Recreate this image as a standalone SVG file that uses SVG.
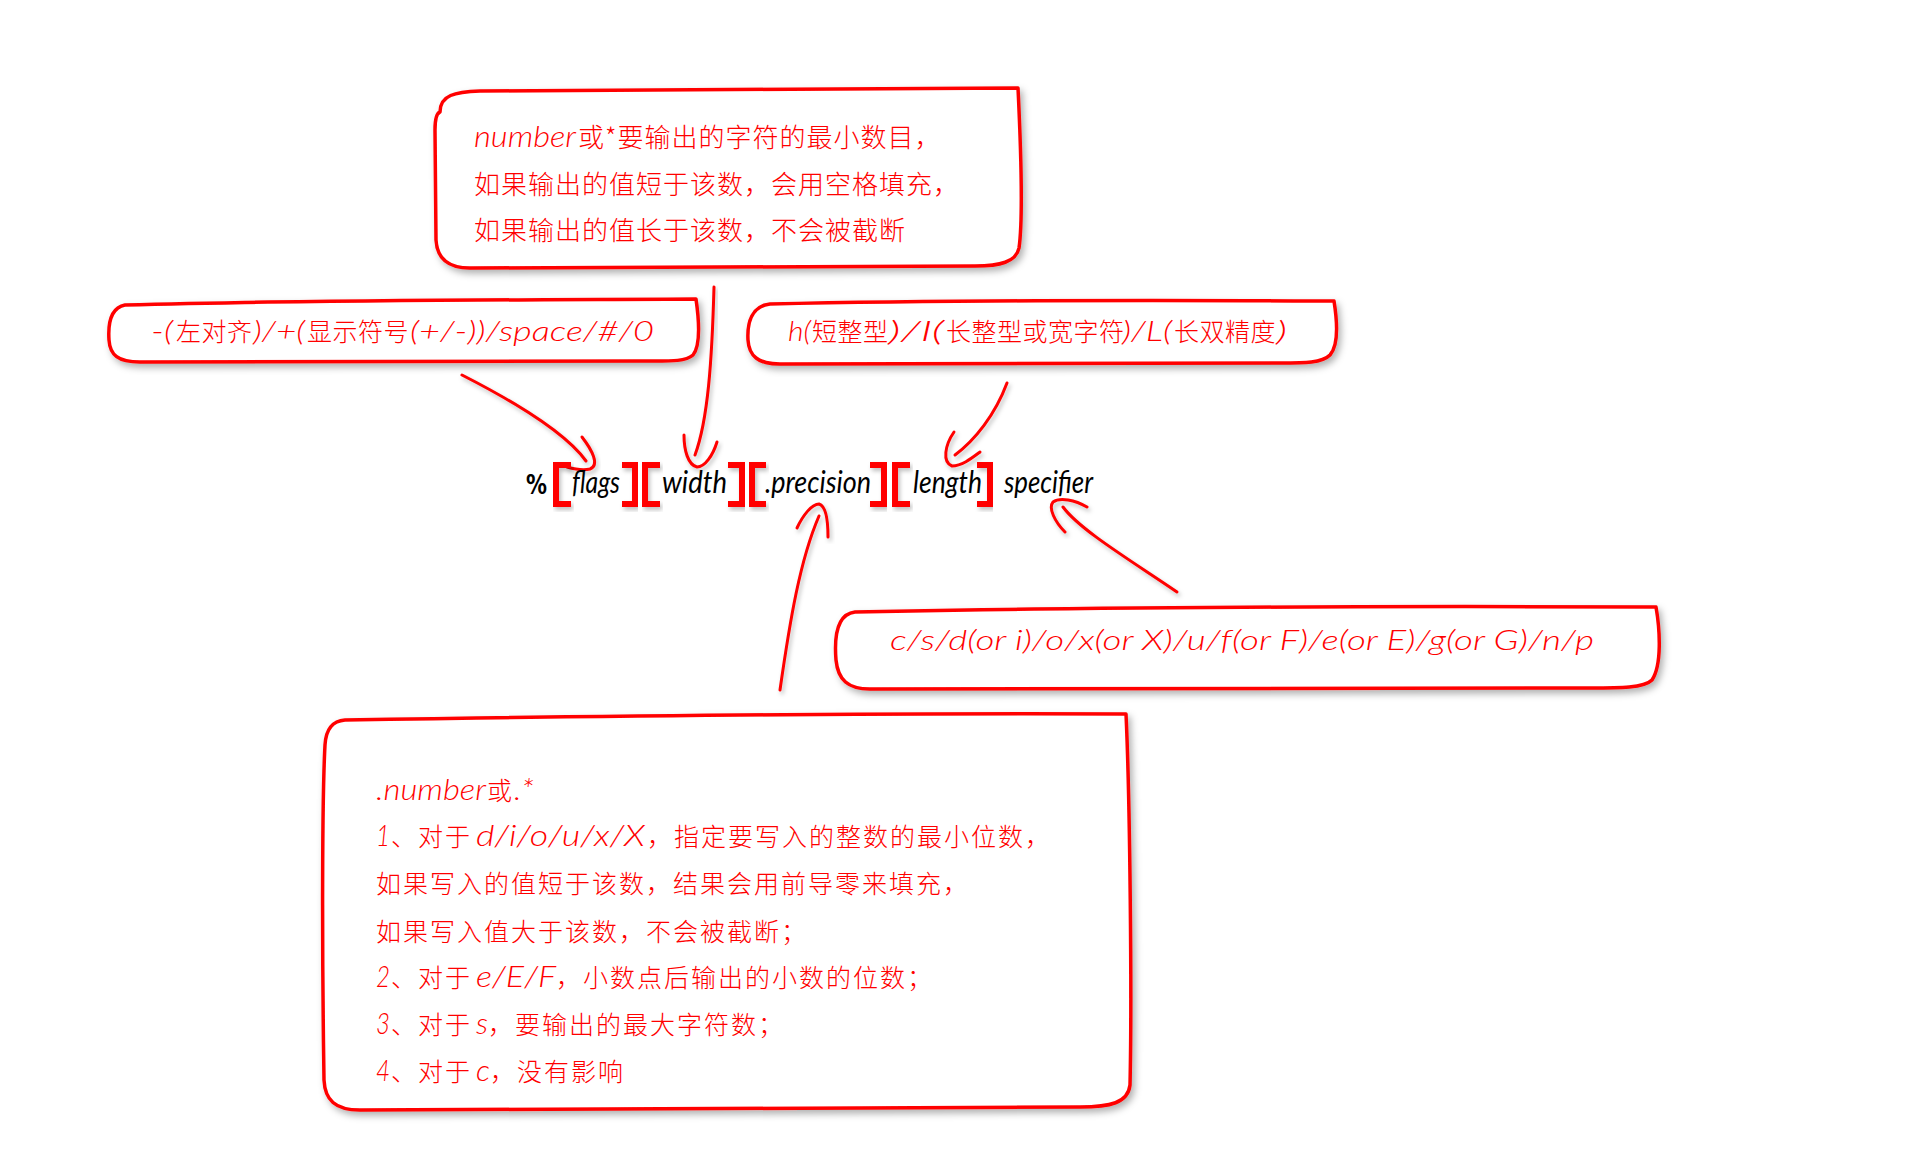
<svg xmlns="http://www.w3.org/2000/svg" width="1920" height="1157" viewBox="0 0 1920 1157">
<defs>
<filter id="sh" x="-10%" y="-10%" width="120%" height="130%">
<feDropShadow dx="3" dy="4" stdDeviation="3.5" flood-color="#000" flood-opacity="0.3"/>
</filter>
<filter id="shs" x="-20%" y="-20%" width="140%" height="140%">
<feDropShadow dx="2" dy="3" stdDeviation="2" flood-color="#000" flood-opacity="0.25"/>
</filter>
</defs>
<style>
.box{fill:#fff;stroke:#ff0000;stroke-width:3.5;stroke-linejoin:round;filter:url(#sh)}
.arr{fill:none;stroke:#ff0000;stroke-width:3;stroke-linecap:round;filter:url(#shs)}
.br{fill:none;stroke:#ff0000;stroke-width:6;stroke-linejoin:miter;filter:url(#shs)}
.cj{font-family:"Noto Sans CJK SC","Noto Sans",sans-serif;fill:#ff0000;font-weight:300}
.c1{font-size:26px;letter-spacing:1px}
.c2{font-size:25px;letter-spacing:2px}
.c3{font-size:25px;letter-spacing:0.5px}
.la{font-family:Lato,"Open Sans",sans-serif;font-style:italic;font-weight:300;fill:#ff0000}
.lb{font-family:Lato,"Open Sans",sans-serif;font-style:italic;font-weight:400;fill:#000;font-size:30px}
</style>
<rect width="1920" height="1157" fill="#fff"/>

<g id="connectors">
<path class="arr" d="M462,375 Q560,425 586,461"/>
<path class="arr" d="M582,437 C592,450 600,465 590,469 C582,471 574,469 567,467"/>
<path class="arr" d="M714,287 C712,360 708,420 695,455"/>
<path class="arr" d="M684,435 C684,450 688,465 697,467 C705,467 713,455 717,442"/>
<path class="arr" d="M1007,383 C995,415 975,440 955,455"/>
<path class="arr" d="M954,432 C945,445 942,462 952,466 C962,466 972,458 980,452"/>
<path class="arr" d="M780,690 C790,620 800,560 819,516"/>
<path class="arr" d="M797,528 C803,515 812,504 819,504 C826,506 828,520 828,537"/>
<path class="arr" d="M1177,592 C1130,560 1080,530 1063,507"/>
<path class="arr" d="M1065,532 C1055,522 1048,508 1053,502 C1060,497 1075,500 1087,507"/>
</g>

<g id="node-width-desc">
<path class="box" d="M440,112 C440,95 455,92 480,91 L1018,88 C1021,150 1023,220 1019,248 C1016,262 1000,266 975,266 L470,268 C447,268 437,258 436,240 L435,130 C435,118 437,113 440,112 Z"/>
<text class="la" x="474" y="147" font-size="30" textLength="102" lengthAdjust="spacingAndGlyphs">number</text>
<text class="cj c1" x="578" y="147">或*要输出的字符的最小数目，</text>
<text class="cj c1" x="474" y="194">如果输出的值短于该数，会用空格填充，</text>
<text class="cj c1" x="474" y="240">如果输出的值长于该数，不会被截断</text>
</g>

<g id="node-flags-desc">
<path class="box" d="M125,305 C300,300 500,300 696,299 C699,320 701,345 693,355 C685,362 670,361 640,361 L140,362 C118,362 110,355 109,340 C108,325 110,308 125,305 Z"/>
<text class="la" x="151" y="341" font-size="28" textLength="22" lengthAdjust="spacingAndGlyphs">-(</text>
<text class="cj c3" x="176" y="341">左对齐</text>
<text class="la" x="253" y="341" font-size="28" textLength="52" lengthAdjust="spacingAndGlyphs">)/+(</text>
<text class="cj c3" x="307" y="341">显示符号</text>
<text class="la" x="410" y="341" font-size="28" textLength="244" lengthAdjust="spacingAndGlyphs">(+/-))/space/#/0</text>
</g>

<g id="node-length-desc">
<path class="box" d="M770,304 C950,300 1150,300 1334,301 C1337,320 1339,345 1330,355 C1322,363 1305,363 1280,363 L780,364 C758,364 749,356 748,340 C747,322 752,306 770,304 Z"/>
<text class="la" x="788" y="341" font-size="28" textLength="23" lengthAdjust="spacingAndGlyphs">h(</text>
<text class="cj c3" x="812" y="341" letter-spacing="1.5">短整型</text>
<text class="la" x="888" y="341" font-size="28" textLength="56" lengthAdjust="spacingAndGlyphs">)/l(</text>
<text class="cj c3" x="946" y="341">长整型或宽字符</text>
<text class="la" x="1122" y="341" font-size="28" textLength="50" lengthAdjust="spacingAndGlyphs">)/L(</text>
<text class="cj c3" x="1174" y="341" letter-spacing="1.5">长双精度</text>
<text class="la" x="1276" y="341" font-size="28" textLength="11" lengthAdjust="spacingAndGlyphs">)</text>
</g>

<g id="node-format">
<text x="526" y="494" font-family="'DejaVu Sans',sans-serif" font-weight="bold" font-size="26" fill="#000" textLength="21" lengthAdjust="spacingAndGlyphs">%</text>
<path class="br" d="M571,465 H556 V504 H571"/>
<text class="lb" x="572" y="493" textLength="48" lengthAdjust="spacingAndGlyphs">flags</text>
<path class="br" d="M622,465 H635 V504 H622"/>
<path class="br" d="M660,465 H645 V504 H660"/>
<text class="lb" x="662" y="493" textLength="65" lengthAdjust="spacingAndGlyphs">width</text>
<path class="br" d="M728,465 H742 V504 H728"/>
<path class="br" d="M766,465 H752 V504 H766"/>
<text class="lb" x="765" y="493" textLength="106" lengthAdjust="spacingAndGlyphs">.precision</text>
<path class="br" d="M870,465 H884 V504 H870"/>
<path class="br" d="M910,465 H895 V504 H910"/>
<text class="lb" x="913" y="493" textLength="69" lengthAdjust="spacingAndGlyphs">length</text>
<path class="br" d="M977,465 H990 V504 H977"/>
<text class="lb" x="1004" y="493" textLength="89" lengthAdjust="spacingAndGlyphs">specifier</text>
</g>

<g id="node-specifier-desc">
<path class="box" d="M855,612 C1100,607 1400,606 1656,607 C1660,630 1662,665 1652,680 C1644,688 1620,688 1590,688 L870,689 C848,689 838,680 836,660 C834,635 838,614 855,612 Z"/>
<text class="la" x="890" y="650" font-size="28" textLength="704" lengthAdjust="spacingAndGlyphs">c/s/d(or i)/o/x(or X)/u/f(or F)/e(or E)/g(or G)/n/p</text>
</g>

<g id="node-precision-desc">
<path class="box" d="M345,720 C600,716 900,713 1126,714 C1130,800 1132,1000 1130,1085 C1128,1103 1110,1107 1080,1107 L360,1110 C335,1110 325,1100 324,1080 C322,950 322,800 325,745 C326,728 333,721 345,720 Z"/>
<text class="la" x="376" y="800" font-size="30" textLength="110" lengthAdjust="spacingAndGlyphs">.number</text>
<text class="cj c2" x="487" y="800">或</text>
<text class="la" x="514" y="800" font-size="30" textLength="20" lengthAdjust="spacingAndGlyphs">.*</text>

<text class="la" x="376" y="846" font-size="30" textLength="14" lengthAdjust="spacingAndGlyphs">1</text>
<text class="cj c2" x="391" y="846">、对于</text>
<text class="la" x="476" y="846" font-size="30" textLength="169" lengthAdjust="spacingAndGlyphs">d/i/o/u/x/X</text>
<text class="cj c2" x="647" y="846">，指定要写入的整数的最小位数，</text>

<text class="cj c2" x="376" y="893">如果写入的值短于该数，结果会用前导零来填充，</text>
<text class="cj c2" x="376" y="941">如果写入值大于该数，不会被截断；</text>

<text class="la" x="376" y="987" font-size="30" textLength="14" lengthAdjust="spacingAndGlyphs">2</text>
<text class="cj c2" x="391" y="987">、对于</text>
<text class="la" x="476" y="987" font-size="30" textLength="80" lengthAdjust="spacingAndGlyphs">e/E/F</text>
<text class="cj c2" x="556" y="987">，小数点后输出的小数的位数；</text>

<text class="la" x="376" y="1034" font-size="30" textLength="14" lengthAdjust="spacingAndGlyphs">3</text>
<text class="cj c2" x="391" y="1034">、对于</text>
<text class="la" x="476" y="1034" font-size="30" textLength="12" lengthAdjust="spacingAndGlyphs">s</text>
<text class="cj c2" x="488" y="1034">，要输出的最大字符数；</text>

<text class="la" x="376" y="1081" font-size="30" textLength="14" lengthAdjust="spacingAndGlyphs">4</text>
<text class="cj c2" x="391" y="1081">、对于</text>
<text class="la" x="476" y="1081" font-size="30" textLength="14" lengthAdjust="spacingAndGlyphs">c</text>
<text class="cj c2" x="490" y="1081">，没有影响</text>
</g>
</svg>
